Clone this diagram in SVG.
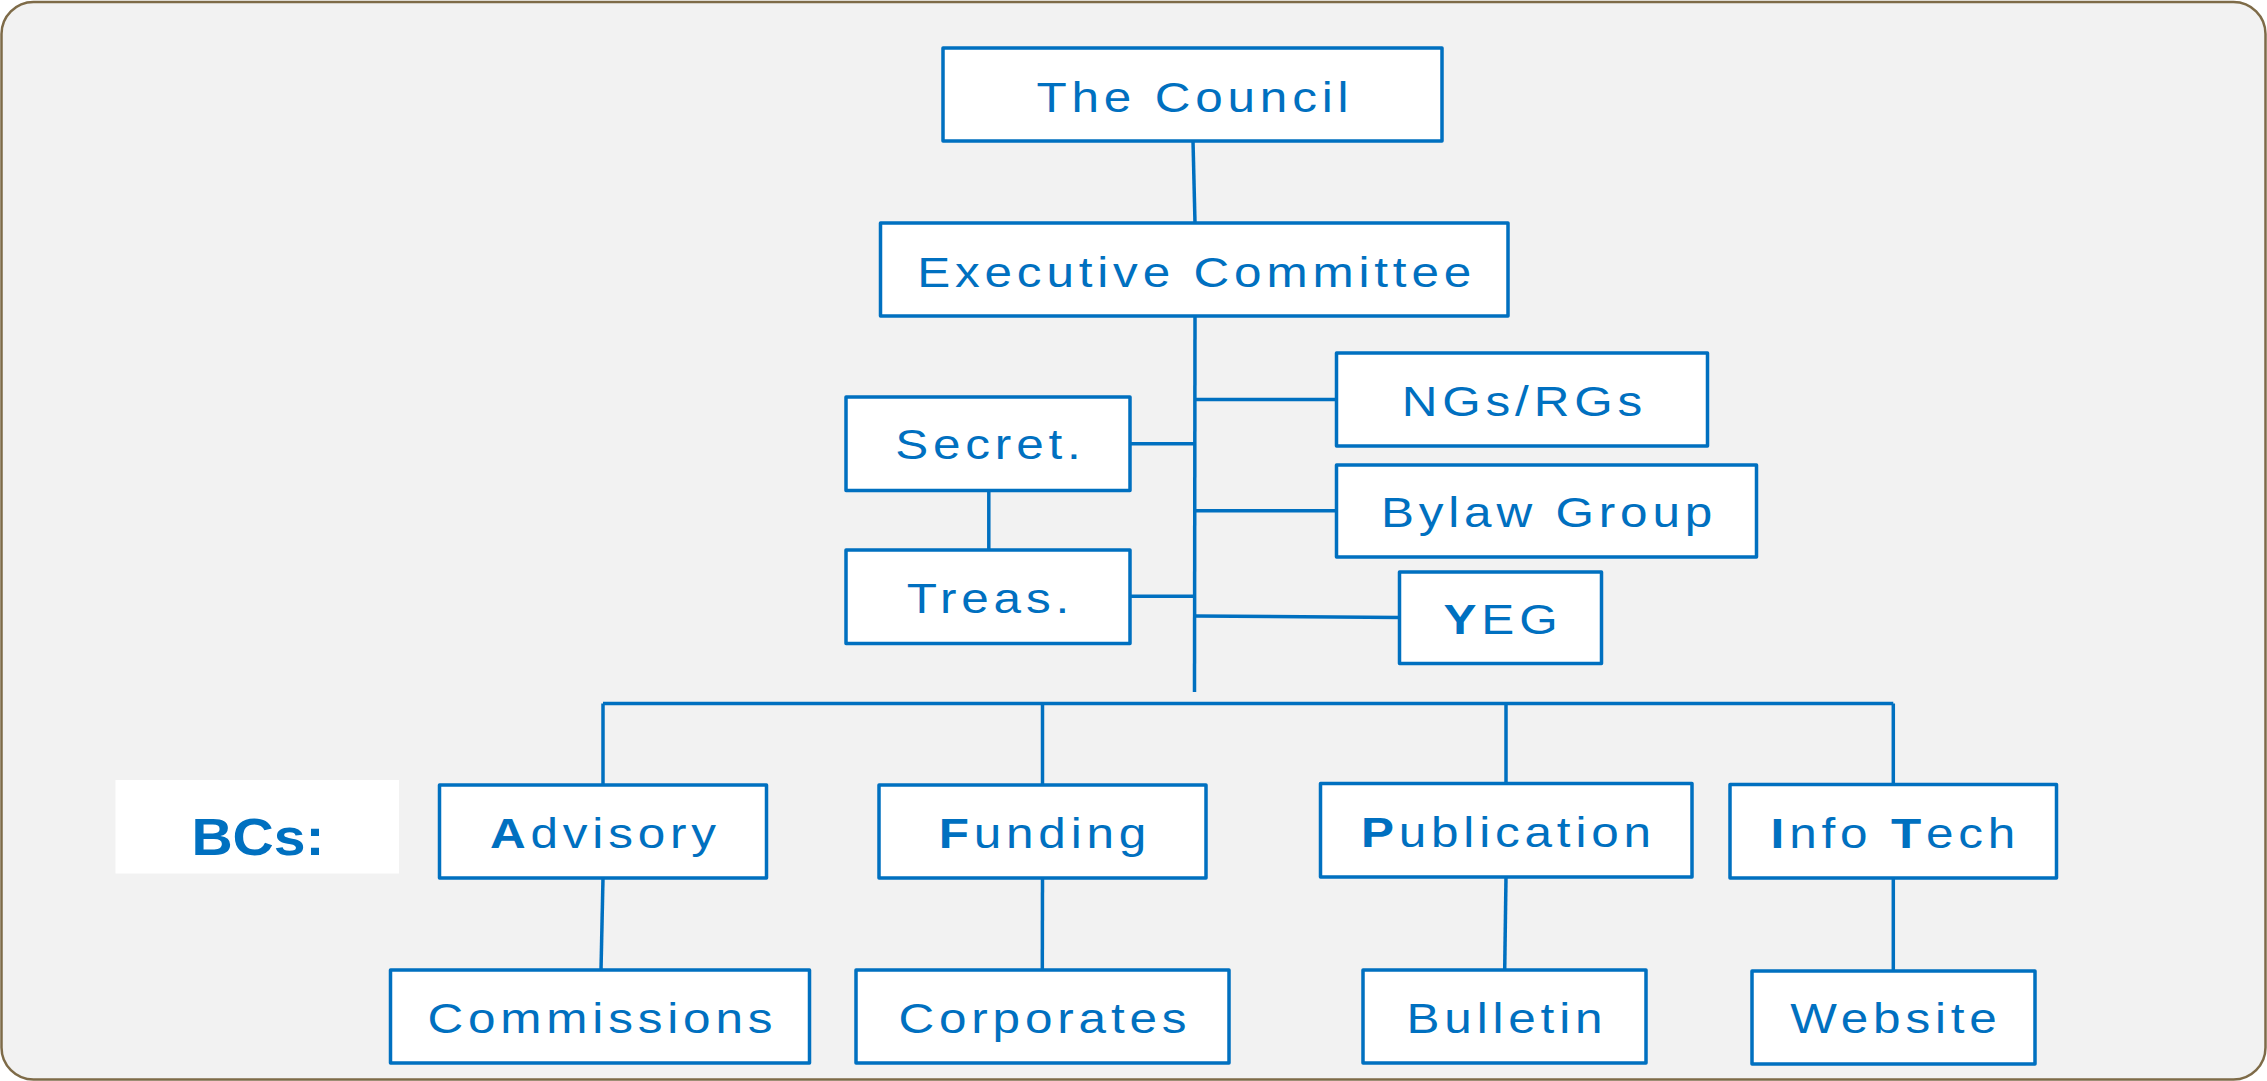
<svg xmlns="http://www.w3.org/2000/svg" width="2267" height="1081" viewBox="0 0 2267 1081">
<style>
.bg{fill:#F2F2F2;stroke:#7E6B48;stroke-width:2.5}
.box{fill:#FFFFFF;stroke:#0070C0;stroke-width:3.5;stroke-linejoin:round}
.t{font-family:"Liberation Sans",Arial,sans-serif;font-size:43px;fill:#0070C0;text-anchor:middle;letter-spacing:4.2px}
.b{font-weight:bold}
.lbl{fill:#FFFFFF}
.bcs{font-family:"Liberation Sans",Arial,sans-serif;font-size:51px;font-weight:bold;fill:#0070C0;text-anchor:middle}
.c{fill:none;stroke:#0070C0;stroke-width:3.5}
</style>
<rect class="bg" x="1.5" y="2" width="2264" height="1077.5" rx="32"/>
<g id="connectors">
<path class="c" d="M1193 141 L1195 223"/>
<path class="c" d="M1195 316 L1194.5 692"/>
<path class="c" d="M1195 399.5 H1336.5"/>
<path class="c" d="M1130 443.7 H1195"/>
<path class="c" d="M1195 510.7 H1336.5"/>
<path class="c" d="M1130 596.3 H1195"/>
<path class="c" d="M1195 616 L1399.5 617.5"/>
<path class="c" d="M988.8 490.7 V550"/>
<path class="c" d="M603 703.5 H1893.3"/>
<path class="c" d="M603 703.5 V785"/>
<path class="c" d="M1042.5 703.5 V785"/>
<path class="c" d="M1506 703.5 V783.5"/>
<path class="c" d="M1893.3 703.5 V784.5"/>
<path class="c" d="M603 878 L601 970"/>
<path class="c" d="M1042.5 878 L1042.3 970"/>
<path class="c" d="M1506 877 L1504.7 970"/>
<path class="c" d="M1893.3 878.5 V971"/>
</g>
<g id="council"><rect class="box" x="943" y="48" width="499" height="93"/><text class="t" transform="translate(1194.9,112) scale(1.15,1)">The Council</text></g>
<g id="executive"><rect class="box" x="880.5" y="223" width="627.5" height="93"/><text class="t" transform="translate(1196.6,287) scale(1.15,1)">Executive Committee</text></g>
<g id="ngs"><rect class="box" x="1336.5" y="353" width="371" height="93"/><text class="t" transform="translate(1524.4,416) scale(1.15,1)">NGs/RGs</text></g>
<g id="secret"><rect class="box" x="846" y="397" width="284" height="93.5"/><text class="t" transform="translate(990.4,459) scale(1.15,1)">Secret.</text></g>
<g id="bylaw"><rect class="box" x="1336.5" y="465" width="420" height="92"/><text class="t" transform="translate(1549,527) scale(1.15,1)">Bylaw Group</text></g>
<g id="treas"><rect class="box" x="846" y="550" width="284" height="93.5"/><text class="t" transform="translate(990.4,613) scale(1.15,1)">Treas.</text></g>
<g id="yeg"><rect class="box" x="1399.5" y="572" width="202" height="91.5"/><text class="t" transform="translate(1503,634) scale(1.15,1)"><tspan class="b">Y</tspan>EG</text></g>
<g id="bcs"><rect class="lbl" x="115.5" y="780" width="283.5" height="93.5"/><text class="bcs" transform="translate(258,855) scale(1.12,1)">BCs:</text></g>
<g id="advisory"><rect class="box" x="439.5" y="785" width="327" height="93"/><text class="t" transform="translate(605.4,848) scale(1.15,1)"><tspan class="b">A</tspan>dvisory</text></g>
<g id="funding"><rect class="box" x="879" y="785" width="327" height="93"/><text class="t" transform="translate(1044.9,848) scale(1.15,1)"><tspan class="b">F</tspan>unding</text></g>
<g id="publication"><rect class="box" x="1320.5" y="783.5" width="371.5" height="93.5"/><text class="t" transform="translate(1508.4,847) scale(1.15,1)"><tspan class="b">P</tspan>ublication</text></g>
<g id="infotech"><rect class="box" x="1730" y="784.5" width="326.5" height="93.5"/><text class="t" transform="translate(1895.4,848) scale(1.15,1)"><tspan class="b">I</tspan>nfo <tspan class="b">T</tspan>ech</text></g>
<g id="commissions"><rect class="box" x="390.5" y="970" width="419" height="93"/><text class="t" transform="translate(602.4,1033) scale(1.15,1)">Commissions</text></g>
<g id="corporates"><rect class="box" x="856" y="970" width="373" height="93"/><text class="t" transform="translate(1044.9,1033) scale(1.15,1)">Corporates</text></g>
<g id="bulletin"><rect class="box" x="1363" y="970" width="283" height="93"/><text class="t" transform="translate(1506.9,1033) scale(1.15,1)">Bulletin</text></g>
<g id="website"><rect class="box" x="1752" y="971" width="283" height="93"/><text class="t" transform="translate(1895.9,1033) scale(1.15,1)">Website</text></g>
</svg>
